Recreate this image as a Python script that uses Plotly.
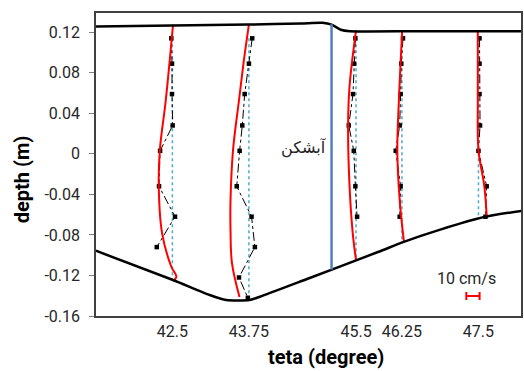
import numpy as np
import plotly.graph_objects as go

# Cross-section angles (degrees) where velocity profiles were taken
THETA = [42.5, 43.75, 45.5, 46.25, 47.5]
TICK_TEXT = ["42.5", "43.75", "45.5", "46.25", "47.5"]

# Measurement depths (m)
DEPTHS = [0.114, 0.089, 0.059, 0.028, 0.003, -0.032, -0.062, -0.092, -0.122, -0.142]

# Measured velocity departures (cm/s), top to bottom
MEAS_U = [
    [-0.8, -0.3, -0.3, 0.2, -9.3, -10.1, 2.0, -11.8],
    [2.5, 0.0, -3.2, -5.0, -7.0, -9.2, 2.0, 4.5, -7.5, -0.8],
    [-0.5, -1.5, -2.3, -5.5, -1.7, -0.5, 0.8],
    [0.8, -0.5, -1.0, -1.7, -4.7, -1.0, -1.7],
    [0.8, 0.8, 0.8, 1.2, 0.0, 6.2, 5.3],
]

# Computed velocity profiles: depth (m) and departure (cm/s)
MODEL_Z = [
    [0.1276, 0.0529, 0.0036, -0.0325, -0.0782, -0.1114, -0.1213, -0.1255],
    [0.1276, 0.0924, 0.0529, 0.0036, -0.0457, -0.0753, -0.1078, -0.1413],
    [0.1220, 0.0650, 0.0250, -0.0289, -0.0782, -0.1048],
    [0.1220, 0.0529, 0.0036, -0.0457, -0.0868],
    [0.1220, 0.0529, 0.0036, -0.0325, -0.0614],
]
MODEL_U = [
    [0.5, -5.0, -9.5, -10.3, -7.8, -0.8, 3.0, 0.5],
    [0.0, -3.8, -7.5, -12.0, -13.9, -13.9, -12.8, -7.1],
    [0.0, -5.0, -6.0, -5.0, -2.5, 0.0],
    [0.2, -2.3, -3.5, -1.7, 1.5],
    [-0.5, -0.5, 0.0, 4.5, 6.2],
]

# Water surface and channel bed
SURF_THETA = [41.25, 42.5, 43.75, 44.6, 44.95, 45.1, 45.25, 45.4, 46.5, 48.2]
SURF_Z = [0.1258, 0.1266, 0.1276, 0.1286, 0.1293, 0.1275, 0.1225, 0.1210, 0.1210, 0.1210]
BED_THETA = [41.25, 42.51, 43.11, 43.38, 43.76, 43.93, 44.7, 45.87, 46.28, 46.85, 47.61, 48.2]
BED_Z = [-0.0956, -0.1245, -0.1393, -0.1442, -0.1442, -0.1410, -0.1235,
         -0.0966, -0.0868, -0.0752, -0.0621, -0.0563]

# Groyne position
GROYNE_THETA = 45.1
GROYNE_TOP = 0.1279

# Velocity scale: 10 cm/s drawn as this many degrees
SCALE_CM = 10
SCALE_DEG = 0.2163
K = SCALE_DEG / SCALE_CM

FONT = "Roboto, Liberation Sans, sans-serif"

fig = go.Figure()

# Reference verticals
for th in THETA:
    zb = float(np.interp(th, BED_THETA, BED_Z))
    fig.add_trace(go.Scatter(x=[th, th], y=[DEPTHS[0], zb], mode="lines",
                             line=dict(color="#4BACC6", width=1.5, dash="dot"),
                             hoverinfo="skip"))

# Measured profiles
for th, u in zip(THETA, MEAS_U):
    x = [th + K * v for v in u]
    fig.add_trace(go.Scatter(x=x, y=DEPTHS[:len(u)], mode="lines+markers",
                             line=dict(color="black", width=1, dash="dashdot"),
                             marker=dict(symbol="square", size=4.5, color="black")))

# Computed profiles
for th, z, u in zip(THETA, MODEL_Z, MODEL_U):
    x = [th + K * v for v in u]
    fig.add_trace(go.Scatter(x=x, y=z, mode="lines",
                             line=dict(color="#FF0000", width=2, shape="spline", smoothing=1.0)))

# Water surface and bed
fig.add_trace(go.Scatter(x=SURF_THETA, y=SURF_Z, mode="lines",
                         line=dict(color="black", width=2.5, shape="spline", smoothing=0.6)))
fig.add_trace(go.Scatter(x=BED_THETA, y=BED_Z, mode="lines",
                         line=dict(color="black", width=2.5, shape="spline", smoothing=0.6)))

# Groyne, standing on the bed
groyne_bottom = float(np.interp(GROYNE_THETA, BED_THETA, BED_Z))
fig.add_trace(go.Scatter(x=[GROYNE_THETA, GROYNE_THETA], y=[GROYNE_TOP, groyne_bottom],
                         mode="lines", line=dict(color="#4F81BD", width=2.5)))

# Scale bar
fig.add_trace(go.Scatter(x=[47.41], y=[-0.1403], mode="markers",
                         marker=dict(size=1, color="#FF0000"),
                         error_x=dict(type="data", array=[K * SCALE_CM / 2], color="#FF0000",
                                      thickness=2, width=4)))

fig.add_annotation(x=47.30, y=-0.1226, text="10 cm/s", showarrow=False,
                   font=dict(family=FONT, size=16, color="#262626"))
fig.add_annotation(x=GROYNE_THETA - 0.04, y=0.0055, text="آبشکن", showarrow=False,
                   xanchor="right", font=dict(family="DejaVu Sans", size=16, color="#262626"))

# Axis titles
fig.add_annotation(xref="paper", yref="paper", x=0.54, y=-0.135, yanchor="middle",
                   text="<b>teta (degree)</b>", showarrow=False,
                   font=dict(family=FONT, size=20, color="black"))
fig.add_annotation(xref="paper", yref="paper", x=-0.175, y=0.45, xanchor="center",
                   text="<b>depth (m)</b>", textangle=-90, showarrow=False,
                   font=dict(family=FONT, size=20, color="black"))

fig.update_layout(
    width=524, height=371,
    margin=dict(l=96, r=1, t=13, b=55),
    paper_bgcolor="white", plot_bgcolor="white",
    showlegend=False,
    xaxis=dict(range=[41.252, 48.195], tickvals=THETA, ticktext=TICK_TEXT,
               showgrid=False, zeroline=False, ticks="",
               showline=True, linecolor="#404040", linewidth=1.5, mirror=True,
               tickfont=dict(family=FONT, size=16, color="#262626")),
    yaxis=dict(range=[-0.16, 0.139], tickvals=[-0.16, -0.12, -0.08, -0.04, 0, 0.04, 0.08, 0.12],
               ticktext=["-0.16", "-0.12", "-0.08", "-0.04", "0", "0.04", "0.08", "0.12"],
               showgrid=False, zeroline=False, ticks="outside", ticklen=5, tickcolor="#808080",
               ticklabelstandoff=6,
               showline=True, linecolor="#404040", linewidth=1.5, mirror=True,
               tickfont=dict(family=FONT, size=16, color="#262626")),
)

fig.write_html("out.html")
